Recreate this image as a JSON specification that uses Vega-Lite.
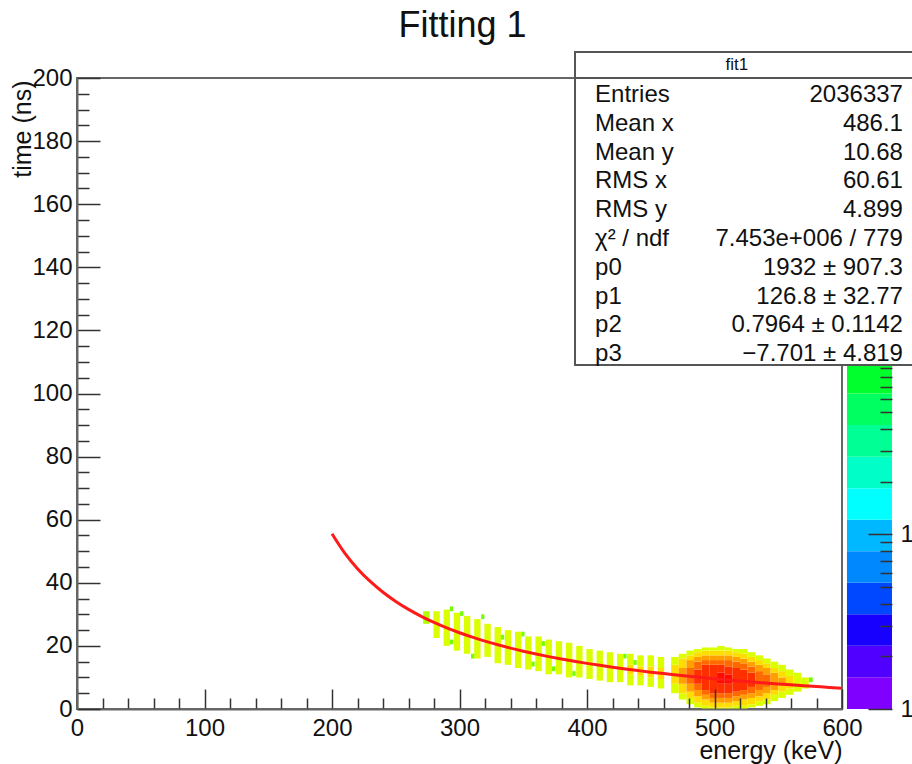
{
  "$schema": "https://vega.github.io/schema/vega-lite/v6.json",
  "width": 765,
  "height": 631,
  "autosize": {"type": "none"},
  "padding": {"left": 77, "top": 78, "right": 70, "bottom": 55},
  "background": "white",
  "title": {"text": "Fitting 1", "fontSize": 36, "font": "Liberation Sans", "fontWeight": "normal", "color": "#111", "anchor": "middle", "frame": "group", "baseline": "alphabetic", "offset": 11, "dx": 3, "dy": 33},
  "config": {
    "font": "Liberation Sans",
    "view": {"stroke": "#666", "strokeWidth": 2},
    "axis": {"domainColor": "#666", "domainWidth": 2, "tickColor": "#333", "tickWidth": 1.5, "labelFont": "Liberation Sans", "labelFontSize": 24, "labelColor": "#111", "titleFont": "Liberation Sans", "titleFontSize": 25, "titleFontWeight": "normal", "titleColor": "#111", "grid": false, "labelFlush": false, "labelOverlap": false},
    "text": {"font": "Liberation Sans", "color": "#111"}
  },
  "layer": [
    {
      "data": {"values": [
        {"e0":271.5,"e1":276.5,"t0":27,"t1":31,"n":300},
        {"e0":279.5,"e1":284.5,"t0":22.5,"t1":31,"n":420},
        {"e0":287.5,"e1":292.5,"t0":20,"t1":31.5,"n":420},
        {"e0":295.5,"e1":300.5,"t0":18.5,"t1":30.5,"n":420},
        {"e0":303.5,"e1":308.5,"t0":17.5,"t1":29.5,"n":420},
        {"e0":311.5,"e1":316.5,"t0":16,"t1":28.5,"n":420},
        {"e0":319.5,"e1":324.5,"t0":16.5,"t1":27,"n":420},
        {"e0":327.5,"e1":332.5,"t0":14.5,"t1":26,"n":420},
        {"e0":335.5,"e1":340.5,"t0":14,"t1":25,"n":420},
        {"e0":343.5,"e1":348.5,"t0":13,"t1":24.5,"n":420},
        {"e0":351.5,"e1":356.5,"t0":12.5,"t1":23,"n":420},
        {"e0":359.5,"e1":364.5,"t0":12,"t1":23,"n":420},
        {"e0":367.5,"e1":372.5,"t0":11,"t1":22,"n":420},
        {"e0":375.5,"e1":380.5,"t0":11,"t1":21.5,"n":420},
        {"e0":383.5,"e1":388.5,"t0":10,"t1":21,"n":420},
        {"e0":391.5,"e1":396.5,"t0":10,"t1":20,"n":420},
        {"e0":399.5,"e1":404.5,"t0":9.5,"t1":19,"n":420},
        {"e0":407.5,"e1":412.5,"t0":9,"t1":18.5,"n":420},
        {"e0":415.5,"e1":420.5,"t0":8.5,"t1":18,"n":420},
        {"e0":423.5,"e1":428.5,"t0":8.5,"t1":17.5,"n":420},
        {"e0":431.5,"e1":436.5,"t0":7.5,"t1":11,"n":420},
        {"e0":431.5,"e1":436.5,"t0":11,"t1":14,"n":600},
        {"e0":431.5,"e1":436.5,"t0":14,"t1":17.5,"n":420},
        {"e0":439.5,"e1":444.5,"t0":7.5,"t1":10.5,"n":420},
        {"e0":439.5,"e1":444.5,"t0":10.5,"t1":13.5,"n":600},
        {"e0":439.5,"e1":444.5,"t0":13.5,"t1":17,"n":420},
        {"e0":447.5,"e1":452.5,"t0":7,"t1":10,"n":420},
        {"e0":447.5,"e1":452.5,"t0":10,"t1":13.5,"n":600},
        {"e0":447.5,"e1":452.5,"t0":13.5,"t1":17,"n":420},
        {"e0":455.5,"e1":460.5,"t0":6.5,"t1":9.5,"n":420},
        {"e0":455.5,"e1":460.5,"t0":9.5,"t1":13,"n":650},
        {"e0":455.5,"e1":460.5,"t0":13,"t1":16.5,"n":420},
        {"e0":292.5,"e1":295,"t0":31,"t1":32.5,"n":180},
        {"e0":300.5,"e1":303,"t0":29.5,"t1":31,"n":180},
        {"e0":292.5,"e1":295,"t0":20.5,"t1":22,"n":180},
        {"e0":309,"e1":311.5,"t0":16,"t1":17.5,"n":180},
        {"e0":317,"e1":319.5,"t0":28.5,"t1":30,"n":180},
        {"e0":332.5,"e1":335,"t0":22,"t1":23.5,"n":180},
        {"e0":348.5,"e1":351,"t0":23,"t1":24.5,"n":180},
        {"e0":356.5,"e1":359,"t0":13.5,"t1":15,"n":180},
        {"e0":364.5,"e1":367,"t0":20,"t1":21.5,"n":180},
        {"e0":372.5,"e1":375,"t0":12,"t1":13.5,"n":180},
        {"e0":388.5,"e1":391,"t0":10.5,"t1":12,"n":180},
        {"e0":428.5,"e1":431,"t0":16,"t1":17.5,"n":180},
        {"e0":436.5,"e1":439,"t0":14,"t1":15.5,"n":180},
        {"e0":574,"e1":577,"t0":8.5,"t1":10,"n":180},
        {"e0":466,"e1":472,"t0":5,"t1":8,"n":420},
        {"e0":466,"e1":472,"t0":8,"t1":14,"n":620},
        {"e0":466,"e1":472,"t0":14,"t1":16.5,"n":420},
        {"e0":472,"e1":478,"t0":3,"t1":5,"n":420},
        {"e0":472,"e1":478,"t0":5,"t1":8,"n":620},
        {"e0":472,"e1":478,"t0":8,"t1":13,"n":950},
        {"e0":472,"e1":478,"t0":13,"t1":16,"n":620},
        {"e0":472,"e1":478,"t0":16,"t1":17.5,"n":420},
        {"e0":478,"e1":484,"t0":1.5,"t1":3.5,"n":420},
        {"e0":478,"e1":484,"t0":3.5,"t1":5.5,"n":620},
        {"e0":478,"e1":484,"t0":5.5,"t1":8,"n":950},
        {"e0":478,"e1":484,"t0":8,"t1":13,"n":1450},
        {"e0":478,"e1":484,"t0":13,"t1":15.5,"n":950},
        {"e0":478,"e1":484,"t0":15.5,"t1":17,"n":620},
        {"e0":478,"e1":484,"t0":17,"t1":18.5,"n":420},
        {"e0":484,"e1":490,"t0":0.5,"t1":2,"n":420},
        {"e0":484,"e1":490,"t0":2,"t1":4,"n":620},
        {"e0":484,"e1":490,"t0":4,"t1":6,"n":950},
        {"e0":484,"e1":490,"t0":6,"t1":8,"n":1450},
        {"e0":484,"e1":490,"t0":8,"t1":12.5,"n":2300},
        {"e0":484,"e1":490,"t0":12.5,"t1":15,"n":1450},
        {"e0":484,"e1":490,"t0":15,"t1":16.5,"n":950},
        {"e0":484,"e1":490,"t0":16.5,"t1":18,"n":620},
        {"e0":484,"e1":490,"t0":18,"t1":19,"n":420},
        {"e0":490,"e1":496,"t0":0,"t1":1,"n":420},
        {"e0":490,"e1":496,"t0":1,"t1":3,"n":620},
        {"e0":490,"e1":496,"t0":3,"t1":4.5,"n":950},
        {"e0":490,"e1":496,"t0":4.5,"t1":6,"n":1450},
        {"e0":490,"e1":496,"t0":6,"t1":14,"n":2300},
        {"e0":490,"e1":496,"t0":14,"t1":15.5,"n":1450},
        {"e0":490,"e1":496,"t0":15.5,"t1":17,"n":950},
        {"e0":490,"e1":496,"t0":17,"t1":18.5,"n":620},
        {"e0":490,"e1":496,"t0":18.5,"t1":19.5,"n":420},
        {"e0":496,"e1":502,"t0":0,"t1":0.5,"n":420},
        {"e0":496,"e1":502,"t0":0.5,"t1":2,"n":620},
        {"e0":496,"e1":502,"t0":2,"t1":3.5,"n":950},
        {"e0":496,"e1":502,"t0":3.5,"t1":5,"n":1450},
        {"e0":496,"e1":502,"t0":5,"t1":14,"n":2300},
        {"e0":496,"e1":502,"t0":14,"t1":15.5,"n":1450},
        {"e0":496,"e1":502,"t0":15.5,"t1":17,"n":950},
        {"e0":496,"e1":502,"t0":17,"t1":18.5,"n":620},
        {"e0":496,"e1":502,"t0":18.5,"t1":19.5,"n":420},
        {"e0":502,"e1":508,"t0":0,"t1":0.5,"n":420},
        {"e0":502,"e1":508,"t0":0.5,"t1":2,"n":620},
        {"e0":502,"e1":508,"t0":2,"t1":3.5,"n":950},
        {"e0":502,"e1":508,"t0":3.5,"t1":5,"n":1450},
        {"e0":502,"e1":508,"t0":5,"t1":8,"n":2300},
        {"e0":502,"e1":508,"t0":8,"t1":11.5,"n":3300},
        {"e0":502,"e1":508,"t0":11.5,"t1":14,"n":2300},
        {"e0":502,"e1":508,"t0":14,"t1":15.5,"n":1450},
        {"e0":502,"e1":508,"t0":15.5,"t1":17,"n":950},
        {"e0":502,"e1":508,"t0":17,"t1":18.5,"n":620},
        {"e0":502,"e1":508,"t0":18.5,"t1":20,"n":420},
        {"e0":508,"e1":514,"t0":0,"t1":0.5,"n":420},
        {"e0":508,"e1":514,"t0":0.5,"t1":2,"n":620},
        {"e0":508,"e1":514,"t0":2,"t1":3.5,"n":950},
        {"e0":508,"e1":514,"t0":3.5,"t1":5,"n":1450},
        {"e0":508,"e1":514,"t0":5,"t1":8,"n":2300},
        {"e0":508,"e1":514,"t0":8,"t1":11,"n":3100},
        {"e0":508,"e1":514,"t0":11,"t1":13.5,"n":2300},
        {"e0":508,"e1":514,"t0":13.5,"t1":15.5,"n":1450},
        {"e0":508,"e1":514,"t0":15.5,"t1":17,"n":950},
        {"e0":508,"e1":514,"t0":17,"t1":18.5,"n":620},
        {"e0":508,"e1":514,"t0":18.5,"t1":19.5,"n":420},
        {"e0":514,"e1":520,"t0":0,"t1":1,"n":420},
        {"e0":514,"e1":520,"t0":1,"t1":2.5,"n":620},
        {"e0":514,"e1":520,"t0":2.5,"t1":4,"n":950},
        {"e0":514,"e1":520,"t0":4,"t1":5.5,"n":1450},
        {"e0":514,"e1":520,"t0":5.5,"t1":13,"n":2300},
        {"e0":514,"e1":520,"t0":13,"t1":15,"n":1450},
        {"e0":514,"e1":520,"t0":15,"t1":16.5,"n":950},
        {"e0":514,"e1":520,"t0":16.5,"t1":18,"n":620},
        {"e0":514,"e1":520,"t0":18,"t1":19,"n":420},
        {"e0":520,"e1":526,"t0":0,"t1":1,"n":420},
        {"e0":520,"e1":526,"t0":1,"t1":3,"n":620},
        {"e0":520,"e1":526,"t0":3,"t1":4.5,"n":950},
        {"e0":520,"e1":526,"t0":4.5,"t1":6,"n":1450},
        {"e0":520,"e1":526,"t0":6,"t1":12.5,"n":2300},
        {"e0":520,"e1":526,"t0":12.5,"t1":14.5,"n":1450},
        {"e0":520,"e1":526,"t0":14.5,"t1":16,"n":950},
        {"e0":520,"e1":526,"t0":16,"t1":17.5,"n":620},
        {"e0":520,"e1":526,"t0":17.5,"t1":19,"n":420},
        {"e0":526,"e1":532,"t0":0.5,"t1":1.5,"n":420},
        {"e0":526,"e1":532,"t0":1.5,"t1":3.5,"n":620},
        {"e0":526,"e1":532,"t0":3.5,"t1":5,"n":950},
        {"e0":526,"e1":532,"t0":5,"t1":7,"n":1450},
        {"e0":526,"e1":532,"t0":7,"t1":11.5,"n":2300},
        {"e0":526,"e1":532,"t0":11.5,"t1":13.5,"n":1450},
        {"e0":526,"e1":532,"t0":13.5,"t1":15,"n":950},
        {"e0":526,"e1":532,"t0":15,"t1":16.5,"n":620},
        {"e0":526,"e1":532,"t0":16.5,"t1":18,"n":420},
        {"e0":532,"e1":538,"t0":1,"t1":2.5,"n":420},
        {"e0":532,"e1":538,"t0":2.5,"t1":4,"n":620},
        {"e0":532,"e1":538,"t0":4,"t1":6,"n":950},
        {"e0":532,"e1":538,"t0":6,"t1":12,"n":1450},
        {"e0":532,"e1":538,"t0":12,"t1":14,"n":950},
        {"e0":532,"e1":538,"t0":14,"t1":15.5,"n":620},
        {"e0":532,"e1":538,"t0":15.5,"t1":17,"n":420},
        {"e0":538,"e1":544,"t0":1.5,"t1":3,"n":420},
        {"e0":538,"e1":544,"t0":3,"t1":5,"n":620},
        {"e0":538,"e1":544,"t0":5,"t1":7,"n":950},
        {"e0":538,"e1":544,"t0":7,"t1":11,"n":1450},
        {"e0":538,"e1":544,"t0":11,"t1":13,"n":950},
        {"e0":538,"e1":544,"t0":13,"t1":14.5,"n":620},
        {"e0":538,"e1":544,"t0":14.5,"t1":16,"n":420},
        {"e0":544,"e1":550,"t0":2.5,"t1":4.5,"n":420},
        {"e0":544,"e1":550,"t0":4.5,"t1":6,"n":620},
        {"e0":544,"e1":550,"t0":6,"t1":11.5,"n":950},
        {"e0":544,"e1":550,"t0":11.5,"t1":13,"n":620},
        {"e0":544,"e1":550,"t0":13,"t1":15,"n":420},
        {"e0":550,"e1":556,"t0":3.5,"t1":5.5,"n":420},
        {"e0":550,"e1":556,"t0":5.5,"t1":7.5,"n":620},
        {"e0":550,"e1":556,"t0":7.5,"t1":10,"n":950},
        {"e0":550,"e1":556,"t0":10,"t1":12,"n":620},
        {"e0":550,"e1":556,"t0":12,"t1":14,"n":420},
        {"e0":556,"e1":562,"t0":4.5,"t1":6.5,"n":420},
        {"e0":556,"e1":562,"t0":6.5,"t1":10.5,"n":620},
        {"e0":556,"e1":562,"t0":10.5,"t1":12.5,"n":420},
        {"e0":562,"e1":568,"t0":5.5,"t1":11.5,"n":420},
        {"e0":568,"e1":574,"t0":6.5,"t1":10,"n":420}
      ]},
      "mark": {"type": "rect"},
      "encoding": {
        "x": {"field": "e0", "type": "quantitative", "scale": {"domain": [0, 600], "nice": false, "zero": false},
          "axis": {"title": "energy (keV)", "zindex": 1, "values": [0,20,40,60,80,100,120,140,160,180,200,220,240,260,280,300,320,340,360,380,400,420,440,460,480,500,520,540,560,580,600],
            "labelExpr": "datum.value % 100 === 0 ? datum.label : ''",
            "tickSize": {"condition": {"test": "datum.value % 100 === 0", "value": -20}, "value": -11},
            "labelPadding": 27, "titleAnchor": "end", "titleAlign": "right", "titleBaseline": "alphabetic", "titleX": 765, "titleY": 49}},
        "x2": {"field": "e1"},
        "y": {"field": "t0", "type": "quantitative", "scale": {"domain": [0, 200], "nice": false},
          "axis": {"title": "time (ns)", "zindex": 1, "values": [0,5,10,15,20,25,30,35,40,45,50,55,60,65,70,75,80,85,90,95,100,105,110,115,120,125,130,135,140,145,150,155,160,165,170,175,180,185,190,195,200],
            "labelExpr": "datum.value % 20 === 0 ? datum.label : ''",
            "tickSize": {"condition": {"test": "datum.value % 20 === 0", "value": -23}, "value": -12},
            "labelPadding": 28, "titleAnchor": "end", "titleAngle": 270, "titleAlign": "right", "titleBaseline": "alphabetic", "titleX": -47, "titleY": 2}},
        "y2": {"field": "t1"},
        "color": {"field": "n", "type": "quantitative",
          "scale": {"type": "threshold", "domain": [1.52, 2.3, 3.49, 5.28, 8.01, 12.15, 18.4, 27.9, 42.3, 64.2, 97.3, 148, 224, 339, 514, 780, 1182, 1793, 2718],
            "range": ["#8000ff","#5000ff","#1800ff","#0048ff","#0088ff","#00b8ff","#00ffff","#00ffc8","#00ff94","#00ff60","#00ff2c","#20ff00","#70ff00","#b0ff00","#dcff00","#ffdd00","#ffa000","#ff6a00","#ff3000","#ff0a00"]},
          "legend": null}
      }
    },
    {
      "data": {"values": [
        {"e":200,"t":55.56},{"e":210,"t":49.42},{"e":220,"t":44.49},{"e":230,"t":40.42},{"e":240,"t":37.0},
        {"e":250,"t":34.09},{"e":260,"t":31.57},{"e":270,"t":29.37},{"e":280,"t":27.43},{"e":290,"t":25.7},
        {"e":300,"t":24.16},{"e":310,"t":22.77},{"e":320,"t":21.5},{"e":330,"t":20.35},{"e":340,"t":19.3},
        {"e":350,"t":18.33},{"e":360,"t":17.44},{"e":370,"t":16.61},{"e":380,"t":15.84},{"e":390,"t":15.13},
        {"e":400,"t":14.46},{"e":410,"t":13.84},{"e":420,"t":13.25},{"e":430,"t":12.7},{"e":440,"t":12.18},
        {"e":450,"t":11.68},{"e":460,"t":11.22},{"e":470,"t":10.78},{"e":480,"t":10.36},{"e":490,"t":9.96},
        {"e":500,"t":9.59},{"e":510,"t":9.23},{"e":520,"t":8.88},{"e":530,"t":8.55},{"e":540,"t":8.24},
        {"e":550,"t":7.94},{"e":560,"t":7.65},{"e":570,"t":7.37},{"e":580,"t":7.11},{"e":590,"t":6.85},{"e":600,"t":6.61}
      ]},
      "mark": {"type": "line", "color": "#ff1a1a", "strokeWidth": 3, "interpolate": "monotone"},
      "encoding": {
        "x": {"field": "e", "type": "quantitative", "scale": {"domain": [0, 600], "nice": false, "zero": false}, "axis": null},
        "y": {"field": "t", "type": "quantitative", "scale": {"domain": [0, 200], "nice": false}, "axis": null}
      }
    },
    {
      "data": {"values": [
        {"z0":1,"z1":1.52},{"z0":1.52,"z1":2.3},{"z0":2.3,"z1":3.49},{"z0":3.49,"z1":5.28},{"z0":5.28,"z1":8.01},
        {"z0":8.01,"z1":12.15},{"z0":12.15,"z1":18.4},{"z0":18.4,"z1":27.9},{"z0":27.9,"z1":42.3},{"z0":42.3,"z1":64.2},
        {"z0":64.2,"z1":97.3},{"z0":97.3,"z1":148},{"z0":148,"z1":224},{"z0":224,"z1":339},{"z0":339,"z1":514},
        {"z0":514,"z1":780},{"z0":780,"z1":1182},{"z0":1182,"z1":1793},{"z0":1793,"z1":2718},{"z0":2718,"z1":4121}
      ]},
      "mark": {"type": "rect"},
      "encoding": {
        "x": {"datum": 603.9, "scale": {"domain": [0, 600], "nice": false, "zero": false}, "axis": null},
        "x2": {"datum": 639.2},
        "y": {"field": "z0", "type": "quantitative", "scale": {"type": "log", "domain": [1, 4121], "nice": false},
          "axis": {"orient": "right", "offset": 50, "domain": false, "title": null, "zindex": 1,
            "values": [1,2,3,4,5,6,7,8,9,10,20,30,40,50,60,70,80,90],
            "labelExpr": "datum.value == 1 || datum.value == 10 ? format(datum.value, 'd') : ''",
            "tickSize": {"condition": {"test": "datum.value == 1 || datum.value == 10", "value": -24}, "value": -12},
            "labelPadding": 32}},
        "y2": {"field": "z1"},
        "color": {"field": "z0", "type": "quantitative",
          "scale": {"type": "threshold", "domain": [1.52, 2.3, 3.49, 5.28, 8.01, 12.15, 18.4, 27.9, 42.3, 64.2, 97.3, 148, 224, 339, 514, 780, 1182, 1793, 2718],
            "range": ["#8000ff","#5000ff","#1800ff","#0048ff","#0088ff","#00b8ff","#00ffff","#00ffc8","#00ff94","#00ff60","#00ff2c","#20ff00","#70ff00","#b0ff00","#dcff00","#ffdd00","#ffa000","#ff6a00","#ff3000","#ff0a00"]},
          "legend": null}
      }
    },
    {
      "data": {"values": [{"box": "fit1"}]},
      "mark": {"type": "rect", "fill": "white", "stroke": "#555", "strokeWidth": 2},
      "encoding": {
        "x": {"datum": 390.6, "scale": {"domain": [0, 600], "nice": false, "zero": false}, "axis": null},
        "x2": {"datum": 660},
        "y": {"datum": -0.49, "type": "quantitative", "scale": {"domain": [0.41, 22.32], "reverse": true, "nice": false, "zero": false}, "axis": null},
        "y2": {"datum": 10.375}
      }
    },
    {
      "data": {"values": [{"box": "fit1"}]},
      "mark": {"type": "rule", "stroke": "#555", "strokeWidth": 2},
      "encoding": {
        "x": {"datum": 390.6, "scale": {"domain": [0, 600], "nice": false, "zero": false}, "axis": null},
        "x2": {"datum": 660},
        "y": {"datum": 0.41, "type": "quantitative", "scale": {"domain": [0.41, 22.32], "reverse": true, "nice": false, "zero": false}, "axis": null}
      }
    },
    {
      "data": {"values": [{"h": "fit1"}]},
      "mark": {"type": "text", "fontSize": 17, "align": "center", "baseline": "middle"},
      "encoding": {
        "x": {"datum": 517.6, "scale": {"domain": [0, 600], "nice": false, "zero": false}, "axis": null},
        "y": {"datum": -0.04, "type": "quantitative", "scale": {"domain": [0.41, 22.32], "reverse": true, "nice": false, "zero": false}, "axis": null},
        "text": {"field": "h"}
      }
    },
    {
      "data": {"name": "statsL", "values": [
        {"i":1,"k":"Entries","v":"2036337"},
        {"i":2,"k":"Mean x","v":"486.1"},
        {"i":3,"k":"Mean y","v":"10.68"},
        {"i":4,"k":"RMS x","v":"60.61"},
        {"i":5,"k":"RMS y","v":"4.899"},
        {"i":6,"k":"χ² / ndf","v":"7.453e+006 / 779"},
        {"i":7,"k":"p0","v":"1932 ± 907.3"},
        {"i":8,"k":"p1","v":"126.8 ± 32.77"},
        {"i":9,"k":"p2","v":"0.7964 ± 0.1142"},
        {"i":10,"k":"p3","v":"−7.701 ± 4.819"}
      ]},
      "mark": {"type": "text", "fontSize": 24, "align": "left", "baseline": "middle"},
      "encoding": {
        "x": {"datum": 406.3, "scale": {"domain": [0, 600], "nice": false, "zero": false}, "axis": null},
        "y": {"field": "i", "type": "quantitative", "scale": {"domain": [0.41, 22.32], "reverse": true, "nice": false, "zero": false}, "axis": null},
        "text": {"field": "k"}
      }
    },
    {
      "data": {"name": "statsR", "values": [
        {"i":1,"k":"Entries","v":"2036337"},
        {"i":2,"k":"Mean x","v":"486.1"},
        {"i":3,"k":"Mean y","v":"10.68"},
        {"i":4,"k":"RMS x","v":"60.61"},
        {"i":5,"k":"RMS y","v":"4.899"},
        {"i":6,"k":"χ² / ndf","v":"7.453e+006 / 779"},
        {"i":7,"k":"p0","v":"1932 ± 907.3"},
        {"i":8,"k":"p1","v":"126.8 ± 32.77"},
        {"i":9,"k":"p2","v":"0.7964 ± 0.1142"},
        {"i":10,"k":"p3","v":"−7.701 ± 4.819"}
      ]},
      "mark": {"type": "text", "fontSize": 24, "align": "right", "baseline": "middle"},
      "encoding": {
        "x": {"datum": 647.8, "scale": {"domain": [0, 600], "nice": false, "zero": false}, "axis": null},
        "y": {"field": "i", "type": "quantitative", "scale": {"domain": [0.41, 22.32], "reverse": true, "nice": false, "zero": false}, "axis": null},
        "text": {"field": "v"}
      }
    }
  ],
  "resolve": {"scale": {"x": "independent", "y": "independent"}}
}
